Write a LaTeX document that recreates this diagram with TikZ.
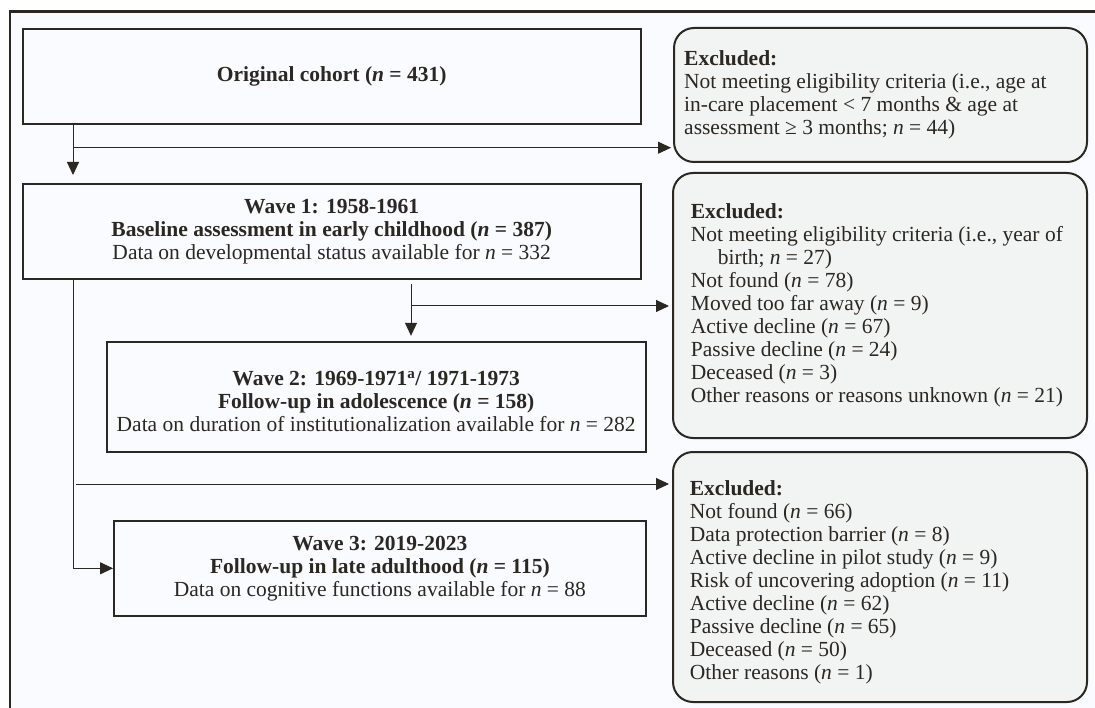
\documentclass[tikz,border=0pt]{standalone}
\usepackage{fontspec}
\setmainfont{Liberation Serif}
\usetikzlibrary{arrows.meta,calc}
\definecolor{ink}{HTML}{2B2722}
\definecolor{panel}{HTML}{FAFBFE}
\definecolor{exfill}{HTML}{F2F3F3}
\begin{document}
\begin{tikzpicture}[x=1pt,y=1pt,
  every node/.style={font=\fontsize{21.5}{23}\selectfont, text=ink, inner sep=0pt},
  wavebox/.style={draw=ink, line width=2pt, fill=panel, align=center},
  exbox/.style={draw=ink, line width=2pt, fill=exfill, rounded corners=20pt},
  extext/.style={align=left, anchor=west},
  conn/.style={draw=ink, line width=1pt},
  arr/.style={conn, -{Triangle[length=13pt,width=12pt]}}]
\useasboundingbox (0,0) rectangle (1095,-708);
\clip (0,0) rectangle (1095,-708);
\fill[white] (0,0) rectangle (1095,-708);
\draw[ink, line width=2.5pt, fill=panel] (10,-11.5) rectangle (1120,-730);

% main boxes
\node[wavebox, minimum width=618pt, minimum height=95pt] (orig) at (331.7,-76.5)
  {\textbf{Original cohort (\textit{n} = 431)}};
\node[wavebox, minimum width=618pt, minimum height=95pt] (w1) at (331.7,-231.5)
  {\textbf{Wave 1: 1958-1961}\\\textbf{Baseline assessment in early childhood (\textit{n} = 387)}\\Data on developmental status available for \textit{n} = 332};
\node[wavebox, minimum width=539pt, minimum height=110pt] (w2) at (376.2,-396.8) {};
\node[align=center] (w2t) at ($(w2.center)+(0,-5)$)
  {\textbf{Wave 2: 1969-1971\textsuperscript{a}/ 1971-1973}\\\textbf{Follow-up in adolescence (\textit{n} = 158)}\\Data on duration of institutionalization available for \textit{n} = 282};
\node[wavebox, minimum width=531.7pt, minimum height=95.3pt] (w3) at (379.9,-568.3)
  {\textbf{Wave 3: 2019-2023}\\\textbf{Follow-up in late adulthood (\textit{n} = 115)}\\Data on cognitive functions available for \textit{n} = 88};

% excluded boxes
\node[exbox, minimum width=413pt, minimum height=134pt] (ex1) at (880.5,-95) {};
\node[extext] (ex1t) at ($(ex1.west)+(11,0)$)
  {\textbf{Excluded:}\\Not meeting eligibility criteria (i.e., age at\\in-care placement < 7 months \& age at\\assessment ≥ 3 months; \textit{n} = 44)};
\node[exbox, minimum width=414pt, minimum height=265pt] (ex2) at (880,-305.5) {};
\node[extext] (ex2t) at ($(ex2.west)+(18.7,0)$)
  {\textbf{Excluded:}\\Not meeting eligibility criteria (i.e., year of\\\hspace*{27pt}birth; \textit{n} = 27)\\Not found (\textit{n} = 78)\\Moved too far away (\textit{n} = 9)\\Active decline (\textit{n} = 67)\\Passive decline (\textit{n} = 24)\\Deceased (\textit{n} = 3)\\Other reasons or reasons unknown (\textit{n} = 21)};
\node[exbox, minimum width=414pt, minimum height=250pt] (ex3) at (880,-577) {};
\node[extext] (ex3t) at ($(ex3.west)+(17.7,-5)$)
  {\textbf{Excluded:}\\Not found (\textit{n} = 66)\\Data protection barrier (\textit{n} = 8)\\Active decline in pilot study (\textit{n} = 9)\\Risk of uncovering adoption (\textit{n} = 11)\\Active decline (\textit{n} = 62)\\Passive decline (\textit{n} = 65)\\Deceased (\textit{n} = 50)\\Other reasons (\textit{n} = 1)};

% connectors
\coordinate (a1) at (73,-147.7);
\coordinate (a2) at (411,-306);
\coordinate (a3) at (73,-568.3);
\coordinate (a4) at (76,-484);
\draw[arr, shorten >=8pt] (orig.south -| a1) -- (w1.north -| a1);
\draw[arr, shorten >=2pt] (a1) -- (a1 -| ex1.west);
\draw[arr, shorten <=4pt, shorten >=5pt] (w1.south -| a2) -- (w2.north -| a2);
\draw[arr, shorten >=3pt] (a2) -- (a2 -| ex2.west);
\draw[arr] (w1.south -| a3) -- (a3) -- (w3.west);
\draw[arr, shorten >=3pt] (a4) -- (a4 -| ex3.west);
\end{tikzpicture}
\end{document}
